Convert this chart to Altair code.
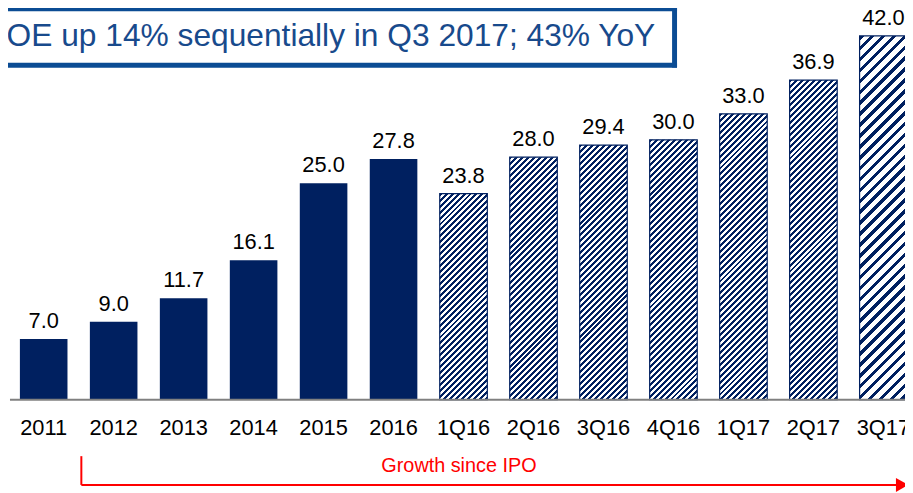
import math
import altair as alt
import pandas as pd

categories = ["2011", "2012", "2013", "2014", "2015", "2016",
              "1Q16", "2Q16", "3Q16", "4Q16", "1Q17", "2Q17", "3Q17"]
values = [7.0, 9.0, 11.7, 16.1, 25.0, 27.8,
          23.8, 28.0, 29.4, 30.0, 33.0, 36.9, 42.0]
hatched = [False] * 6 + [True] * 7
hatch_period = [0] * 6 + [6] * 6 + [11]
hatch_fill = [0] * 6 + [0.5] * 6 + [0.42]

title_text = "MBOE up 14% sequentially in Q3 2017; 43% YoY"
arrow_text = "Growth since IPO"

NAVY = "#002060"
FONT = "Liberation Sans"
W, H = 905, 485
X_DOM = [-0.51, 12.309]
Y_DOM = [-10.529, 44.976]
HALF = 0.34

df = pd.DataFrame({
    "cat": categories,
    "value": values,
    "i": list(range(len(categories))),
    "hatched": hatched,
})
df["x0"] = df["i"] - HALF
df["x1"] = df["i"] + HALF
df["label"] = df["value"].map(lambda v: f"{v:.1f}")

xs = alt.Scale(domain=X_DOM, nice=False, zero=False)
ys = alt.Scale(domain=Y_DOM, nice=False, zero=False)
X = alt.X("x0:Q", scale=xs, axis=None)
X2 = alt.X2("x1")
Y = alt.Y("value:Q", scale=ys, axis=None)

base = alt.Chart(df)

solid = base.transform_filter("!datum.hatched").mark_bar(color=NAVY).encode(
    x=X, x2=X2, y=Y, y2=alt.datum(0)
)

px_x = W / (X_DOM[1] - X_DOM[0])
px_y = H / (Y_DOM[1] - Y_DOM[0])

layers = [solid]
for k in range(len(categories)):
    if not hatched[k]:
        continue
    w = 2 * HALF * px_x
    h = values[k] * px_y
    kk = (w + h) / (w * w + h * h)
    a, b = kk * w, kk * h
    P = hatch_period[k]
    L = w + h
    n = int(math.ceil(L / P))
    stops = []
    for j in range(n):
        o0 = min(j * P / L, 1)
        o1 = min((j + hatch_fill[k]) * P / L, 1)
        o2 = min((j + 1) * P / L, 1)
        stops += [
            alt.GradientStop(color=NAVY, offset=o0),
            alt.GradientStop(color=NAVY, offset=o1),
            alt.GradientStop(color="#ffffff", offset=o1),
            alt.GradientStop(color="#ffffff", offset=o2),
        ]
    grad = alt.LinearGradient(gradient="linear", x1=0, y1=0, x2=a, y2=b, stops=stops)
    layers.append(
        base.transform_filter(f"datum.i == {k}").mark_bar(
            fill=grad, stroke=NAVY, strokeWidth=1.2
        ).encode(x=X, x2=X2, y=Y, y2=alt.datum(0))
    )

vlabels = base.mark_text(
    font=FONT, fontSize=22, color="#000000", baseline="alphabetic", dy=-11
).encode(x=alt.X("i:Q", scale=xs, axis=None), y=Y, text="label:N")

clabels = base.mark_text(
    font=FONT, fontSize=22, color="#000000", baseline="middle"
).encode(x=alt.X("i:Q", scale=xs, axis=None), y=alt.value(421.5), text="cat:N")

axis_line = alt.Chart(pd.DataFrame({"z": [0]})).mark_rule(
    color="#808080", strokeWidth=2
).encode(y=alt.Y("z:Q", scale=ys, axis=None), x=alt.value(2), x2=alt.value(W))

BOX = "#0B4C94"
ann = pd.DataFrame({"t": [title_text]})
box_top = alt.Chart(ann).mark_rule(color=BOX, strokeWidth=5).encode(
    x=alt.value(0), x2=alt.value(675), y=alt.value(-1.5)
)
box_bottom = alt.Chart(ann).mark_rule(color=BOX, strokeWidth=5).encode(
    x=alt.value(0), x2=alt.value(675), y=alt.value(55.5)
)
box_right = alt.Chart(ann).mark_rule(color=BOX, strokeWidth=5).encode(
    x=alt.value(672.5), y=alt.value(-4), y2=alt.value(58)
)
title = alt.Chart(ann).mark_text(
    font=FONT, fontSize=32, color="#184A8C", align="right", baseline="alphabetic"
).encode(x=alt.value(653), y=alt.value(36), text="t:N")

RED = "#FF0000"
vline = alt.Chart(ann).mark_rule(color=RED, strokeWidth=2).encode(
    x=alt.value(74), y=alt.value(450), y2=alt.value(479)
)
hline = alt.Chart(ann).mark_rule(color=RED, strokeWidth=2).encode(
    x=alt.value(74), x2=alt.value(896), y=alt.value(479)
)
head = alt.Chart(ann).mark_point(
    shape="triangle-right", filled=True, color=RED, size=200, opacity=1
).encode(x=alt.value(902), y=alt.value(479))
gtext = alt.Chart(pd.DataFrame({"t": [arrow_text]})).mark_text(
    font=FONT, fontSize=20, color=RED, baseline="middle"
).encode(x=alt.value(455), y=alt.value(460), text="t:N")

chart = alt.layer(
    *layers, axis_line, vlabels, clabels, title, box_top, box_bottom, box_right,
    vline, hline, head, gtext
).properties(
    width=W, height=H, padding=0, autosize=alt.AutoSizeParams(type="none")
).configure_view(strokeWidth=0)

chart.save("out.html", embed_options={"renderer": "svg", "actions": False})
